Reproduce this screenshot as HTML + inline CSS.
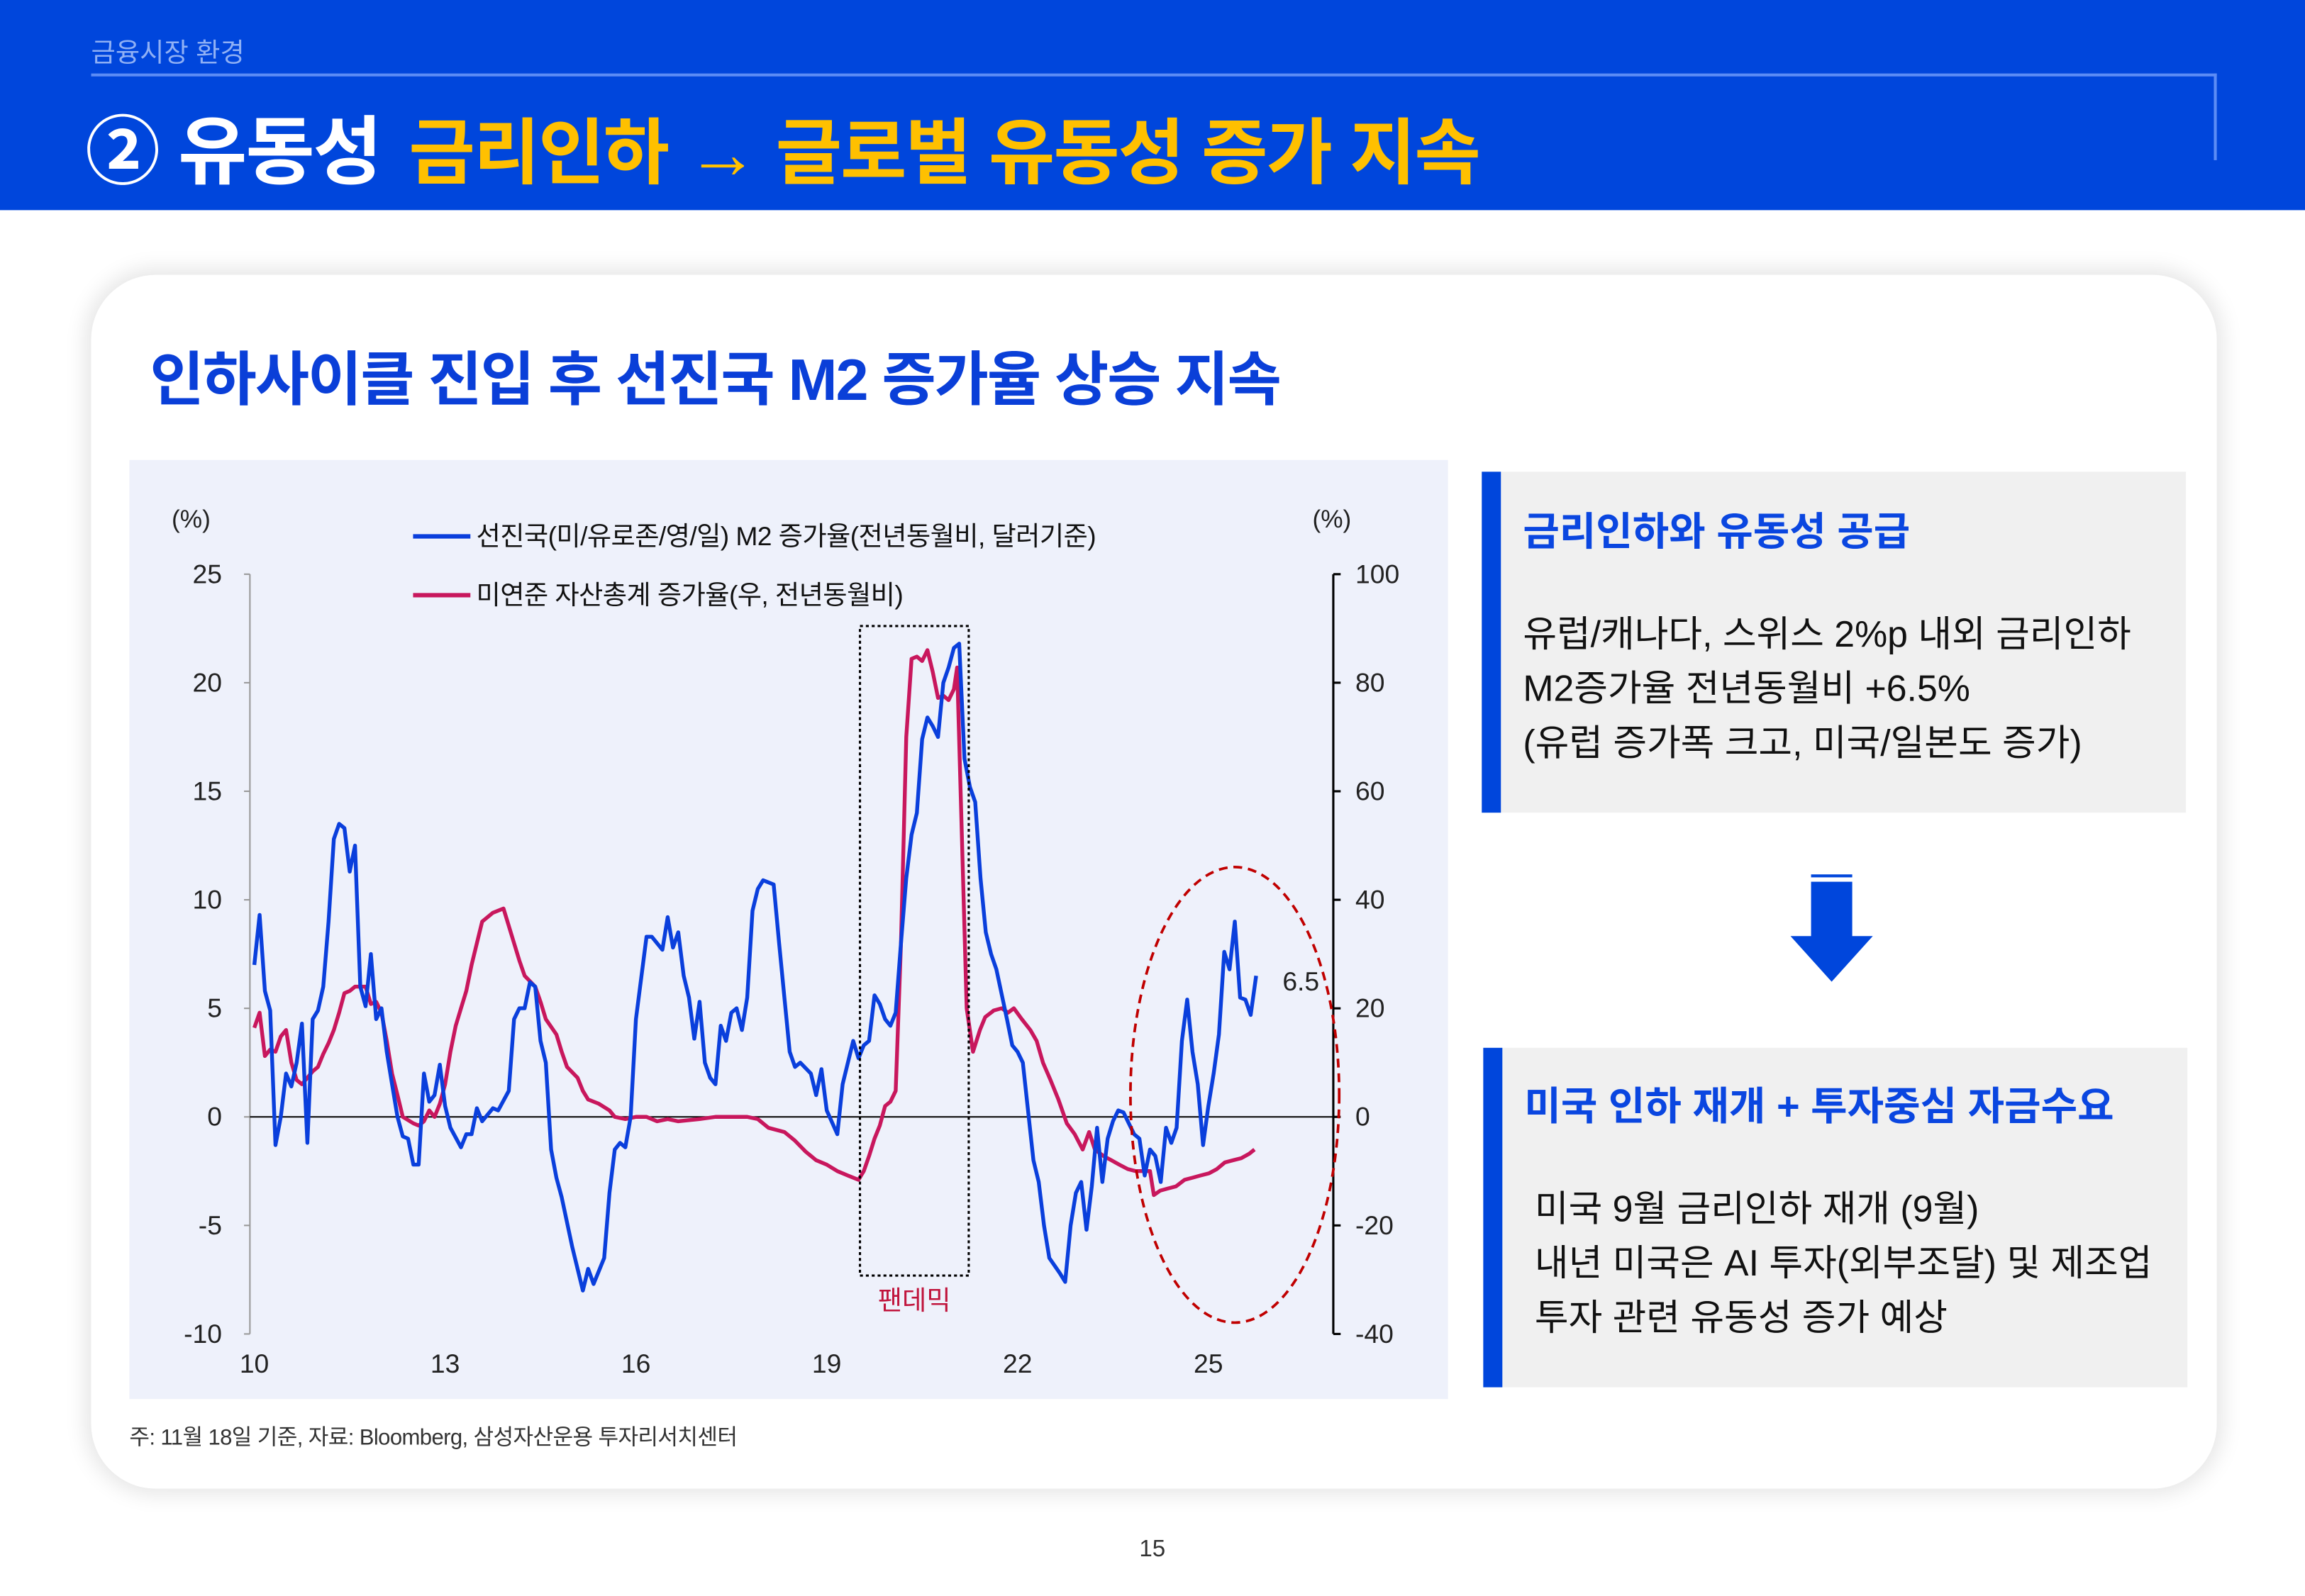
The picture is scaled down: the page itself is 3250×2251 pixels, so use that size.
<!DOCTYPE html>
<html><head><meta charset="utf-8">
<style>
html,body{margin:0;padding:0;width:3250px;height:2250px;overflow:hidden;background:#fff;}
#page{position:absolute;left:0;top:0;width:1568px;height:1085.5px;transform:scale(2.07270);transform-origin:0 0;background:#fff;font-family:"Liberation Sans","Noto Sans CJK KR",sans-serif;}
.abs{position:absolute;white-space:nowrap;}
.k{font-family:"Liberation Sans","Noto Sans CJK KR",sans-serif;}
</style></head>
<body>
<div id="page">
  <div class="abs" style="left:0;top:0;width:1568px;height:143px;background:#0046DC;"></div>
  <div class="abs k" style="left:62px;top:22px;font-size:18px;color:#8FB0F5;">금융시장 환경</div>
  <div class="abs" style="left:62px;top:50px;width:1446px;height:2px;background:#5C8CF5;"></div>
  <div class="abs" style="left:1506px;top:50px;width:2px;height:59px;background:#5C8CF5;"></div>
  <div class="abs k" style="left:58px;top:62px;font-size:51px;font-weight:bold;color:#fff;letter-spacing:-1px;">② 유동성 <span style="color:#FFC000;font-size:49px;margin-left:6px;">금리인하 → 글로벌 유동성 증가 지속</span></div>

  <div class="abs" style="left:62px;top:187px;width:1446px;height:826px;border-radius:44px;background:#fff;box-shadow:0 0 14px 4px rgba(0,0,0,0.10);"></div>
  <div class="abs k" style="left:102px;top:226px;font-size:40px;font-weight:bold;color:#0A3FD8;letter-spacing:-1px;">인하사이클 진입 후 선진국 M2 증가율 상승 지속</div>

  <div class="abs" style="left:88px;top:313px;width:897px;height:639px;background:#EEF1FB;"></div>

  <svg class="abs" style="left:0;top:0;" width="1568" height="1086" viewBox="0 0 1568 1086">
    <g id="axes"></g>
    <g id="series"></g>
    <g id="annot"></g>
  </svg>

  <div class="abs k" style="left:88px;top:967px;font-size:15px;color:#333;letter-spacing:-0.3px;">주: 11월 18일 기준, 자료: Bloomberg, 삼성자산운용 투자리서치센터</div>

  <div class="abs" style="left:1008px;top:321px;width:479px;height:232px;background:#F0F0F0;"></div>
  <div class="abs" style="left:1008px;top:321px;width:13px;height:232px;background:#0046DC;"></div>
  <div class="abs k" style="left:1036px;top:340px;font-size:27px;font-weight:bold;color:#0A46E0;">금리인하와 유동성 공급</div>
  <div class="abs k" style="left:1036px;top:414px;font-size:25px;line-height:37px;color:#111;">유럽/캐나다, 스위스 2%p 내외 금리인하<br>M2증가율 전년동월비 +6.5%<br>(유럽 증가폭 크고, 미국/일본도 증가)</div>

  <div class="abs" style="left:1232px;top:595px;width:28px;height:2px;background:#0046DC;"></div>
  <div class="abs" style="left:1232px;top:600px;width:28px;height:38px;background:#0046DC;"></div>
  <div class="abs" style="left:1218px;top:637px;width:0;height:0;border-left:28px solid transparent;border-right:28px solid transparent;border-top:31px solid #0046DC;"></div>

  <div class="abs" style="left:1009px;top:713px;width:479px;height:231px;background:#F0F0F0;"></div>
  <div class="abs" style="left:1009px;top:713px;width:13px;height:231px;background:#0046DC;"></div>
  <div class="abs k" style="left:1037px;top:731px;font-size:27px;font-weight:bold;color:#0A46E0;">미국 인하 재개 + 투자중심 자금수요</div>
  <div class="abs k" style="left:1044px;top:805px;font-size:25px;line-height:37px;color:#111;">미국 9월 금리인하 재개 (9월)<br>내년 미국은 AI 투자(외부조달) 및 제조업<br>투자 관련 유동성 증가 예상</div>

  <div class="abs k" style="left:775px;top:1046px;font-size:16px;color:#333;">15</div>
</div>

<script>
// ---- chart data ----
const xTickLabels = ["10","13","16","19","22","25"];
const xTickMonths = [0,36,72,108,144,180];
const leftTicks = [25,20,15,10,5,0,-5,-10];
const rightTicks = [100,80,60,40,20,0,-20,-40];
const lastValueLabel = "6.5";
// months since Jan 2010, value (%)
const m2Growth = [[0,7],[1,9.3],[2,5.8],[3,4.9],[4,-1.3],[5,0],[6,2],[7,1.4],[8,2.5],[9,4.3],[10,-1.2],[11,4.5],[12,4.9],[13,6],[14,9],[15,12.8],[16,13.5],[17,13.3],[18,11.3],[19,12.5],[20,6],[21,5.1],[22,7.5],[23,4.5],[24,5],[25,3],[26,1.5],[27,0],[28,-0.9],[29,-1],[30,-2.2],[31,-2.2],[32,2],[33,0.7],[34,1],[35,2.4],[36,0.5],[37,-0.5],[39,-1.4],[40,-0.8],[41,-0.8],[42,0.4],[43,-0.2],[45,0.4],[46,0.3],[48,1.2],[49,4.5],[50,5],[51,5],[52,6.2],[53,6],[54,3.5],[55,2.5],[56,-1.5],[57,-2.8],[58,-3.7],[60,-6],[62,-8],[63,-7],[64,-7.7],[66,-6.5],[67,-3.5],[68,-1.5],[69,-1.2],[70,-1.4],[71,0],[72,4.5],[74,8.3],[75,8.3],[77,7.7],[78,9.2],[79,7.8],[80,8.5],[81,6.5],[82,5.5],[83,3.6],[84,5.3],[85,2.5],[86,1.8],[87,1.5],[88,4.2],[89,3.5],[90,4.8],[91,5],[92,4],[93,5.5],[94,9.5],[95,10.5],[96,10.9],[98,10.7],[99,8],[100,5.5],[101,3],[102,2.3],[103,2.5],[105,2],[106,1],[107,2.2],[108,0.3],[110,-0.8],[111,1.5],[113,3.5],[114,2.7],[115,3.3],[116,3.5],[117,5.6],[118,5.2],[119,4.5],[120,4.2],[121,4.8],[122,8],[123,11],[124,13],[125,14],[126,17.4],[127,18.4],[128,18],[129,17.5],[130,20],[131,20.7],[132,21.6],[133,21.8],[134,16.5],[135,15.2],[136,14.5],[137,11],[138,8.5],[139,7.5],[140,6.8],[142,4.5],[143,3.3],[144,3],[145,2.5],[147,-2],[148,-3],[149,-5],[150,-6.5],[152,-7.2],[153,-7.6],[154,-5],[155,-3.5],[156,-3],[157,-5.2],[158,-3.2],[159,-0.5],[160,-3],[161,-1],[162,-0.2],[163,0.3],[164,0.2],[166,-0.8],[167,-1],[168,-2.7],[169,-1.5],[170,-1.8],[171,-3],[172,-0.5],[173,-1.2],[174,-0.5],[175,3.5],[176,5.4],[177,3],[178,1.5],[179,-1.3],[180,0.5],[181,2],[182,3.8],[183,7.6],[184,6.8],[185,9],[186,5.5],[187,5.4],[188,4.7],[189,6.5]];
// months since Jan 2010, value (%) on right axis
const fedAssets = [[0,16.4],[1,19.2],[2,11.2],[3,12.4],[4,12],[5,14.8],[6,16],[7,10],[8,6.8],[9,6],[10,7.2],[11,8.4],[12,9.2],[13,11.6],[14,13.6],[15,16],[16,19.2],[17,22.8],[18,23.2],[19,24],[21,24],[22,20.8],[23,21.2],[24,19.2],[25,14],[26,8],[27,4],[28,0],[30,-1.2],[31,-1.6],[32,-0.8],[33,1.2],[34,0],[35,2.4],[36,6],[37,12],[38,16.8],[39,20],[40,23.2],[41,28],[42,32],[43,36],[45,37.6],[47,38.4],[48,35.2],[49,32],[50,28.8],[51,26],[53,24],[54,21.2],[55,18],[57,15.2],[58,12],[59,9.2],[61,7.2],[62,4.8],[63,3.2],[65,2.4],[67,1.2],[68,0],[70,-0.4],[72,0],[74,0],[76,-0.8],[78,-0.4],[80,-0.8],[84,-0.4],[87,0],[90,0],[93,0],[95,-0.4],[97,-2],[100,-2.8],[102,-4.4],[104,-6.4],[106,-8],[108,-8.8],[110,-10],[112,-10.8],[114,-11.6],[115,-10],[116,-7.2],[117,-4],[118,-1.6],[119,2],[120,2.8],[121,4.8],[122,32],[123,70],[124,84.4],[125,84.8],[126,84],[127,86],[128,82],[129,77.2],[130,77.6],[131,76.8],[132,78.8],[132.6,82.8],[133.5,52],[134.4,20],[135.6,12],[136.9,16],[137.9,18.4],[139.5,19.6],[141,20],[142.2,19.2],[143.3,20],[144.8,18],[146.4,16],[147.6,14],[148.8,10],[150.2,6.8],[151.7,3.2],[153.3,-1.2],[154.8,-3.2],[156.3,-6],[157.5,-2.8],[158.6,-6],[160.2,-7.2],[161.7,-8],[163.2,-8.8],[164.8,-9.6],[166.3,-10],[167.8,-10],[169,-10],[169.7,-14.4],[170.9,-13.6],[172.4,-13.2],[173.9,-12.8],[175.5,-11.6],[177,-11.2],[178.5,-10.8],[180.1,-10.4],[181.6,-9.6],[183.1,-8.4],[184.7,-8],[186.2,-7.6],[187.7,-6.8],[188.7,-6]];

// ---- axis functions ----
const X0=173, XPM=649/180;
const xs = m => X0 + m*XPM;
const yL = v => 760 - v*(517/35);
const yR = v => 760 - v*(517/140);
const NS="http://www.w3.org/2000/svg";
function mk(tag, attrs, parent){const e=document.createElementNS(NS,tag);for(const k in attrs)e.setAttribute(k,attrs[k]);parent.appendChild(e);return e;}
const axes=document.getElementById('axes'), series=document.getElementById('series'), annot=document.getElementById('annot');
const F='"Liberation Sans","Noto Sans CJK KR",sans-serif';

let la=mk('line',{x1:170,y1:yL(25),x2:170,y2:yL(-10),stroke:'#999','stroke-width':1},axes);


leftTicks.forEach(v=>{
  const t=mk('line',{x1:166,y1:yL(v),x2:170,y2:yL(v),stroke:'#999'},axes);
  
  
  const l=mk('text',{x:151,y:yL(v)+6,'text-anchor':'end','font-size':18,fill:'#222','font-family':F},axes);
  l.textContent = v<0 ? '-'+Math.abs(v) : String(v);
  
  
});
let ra=mk('line',{x1:907,y1:yR(100),x2:907,y2:yR(-40),stroke:'#000','stroke-width':1.5},axes);


rightTicks.forEach(v=>{
  const t=mk('line',{x1:907,y1:yR(v),x2:912,y2:yR(v),stroke:'#000','stroke-width':1.5},axes);
  
  
  const l=mk('text',{x:922,y:yR(v)+6,'font-size':18,fill:'#222','font-family':F},axes);
  l.textContent = v<0 ? '-'+Math.abs(v) : String(v);
  
  
});
let zl=mk('line',{x1:170,y1:yL(0),x2:907,y2:yL(0),stroke:'#000','stroke-width':1},axes);


xTickMonths.forEach((m,i)=>{
  const l=mk('text',{x:xs(m),y:934,'text-anchor':'middle','font-size':18,fill:'#222','font-family':F},axes);
  l.textContent=xTickLabels[i];
  
  
});
[[130,'(%)'],[906,'(%)']].forEach(([x,s])=>{
  const u=mk('text',{x:x,y:359,'text-anchor':'middle','font-size':17,fill:'#222','font-family':F},axes);
  u.textContent=s;
  
  
});
const red=mk('path',{d:fedAssets.map((p,i)=>(i?'L':'M')+xs(p[0]).toFixed(1)+','+yR(p[1]).toFixed(1)).join(''),fill:'none',stroke:'#C8175D','stroke-width':2.6,'stroke-linejoin':'round'},series);


const blue=mk('path',{d:m2Growth.map((p,i)=>(i?'L':'M')+xs(p[0]).toFixed(1)+','+yL(p[1]).toFixed(1)).join(''),fill:'none',stroke:'#0A3FDC','stroke-width':2.6,'stroke-linejoin':'round'},series);


let lg1=mk('line',{x1:281,y1:365,x2:320,y2:365,stroke:'#0A3FDC','stroke-width':3},annot);


let lt1=mk('text',{x:324,y:371,'font-size':18,fill:'#111','font-family':F,'letter-spacing':'-0.3'},annot);
lt1.textContent='선진국(미/유로존/영/일) M2 증가율(전년동월비, 달러기준)';


let lg2=mk('line',{x1:281,y1:405,x2:320,y2:405,stroke:'#C8175D','stroke-width':3},annot);


let lt2=mk('text',{x:324,y:411,'font-size':18,fill:'#111','font-family':F,'letter-spacing':'-0.3'},annot);
lt2.textContent='미연준 자산총계 증가율(우, 전년동월비)';


let pb=mk('rect',{x:585,y:426,width:74,height:442,fill:'none',stroke:'#000','stroke-width':1.5,'stroke-dasharray':'2,2'},annot);


let pt=mk('text',{x:622,y:891,'text-anchor':'middle','font-size':18,fill:'#C0143C','font-family':F},annot);
pt.textContent='팬데믹';


let el=mk('ellipse',{cx:840,cy:745,rx:71,ry:155,fill:'none',stroke:'#C00000','stroke-width':1.8,'stroke-dasharray':'6,4'},annot);


const last=m2Growth[m2Growth.length-1];
let lv=mk('text',{x:xs(last[0])+18,y:yL(last[1])+10,'font-size':18,fill:'#222','font-family':F},annot);
lv.textContent=lastValueLabel;


</script>
</body></html>
